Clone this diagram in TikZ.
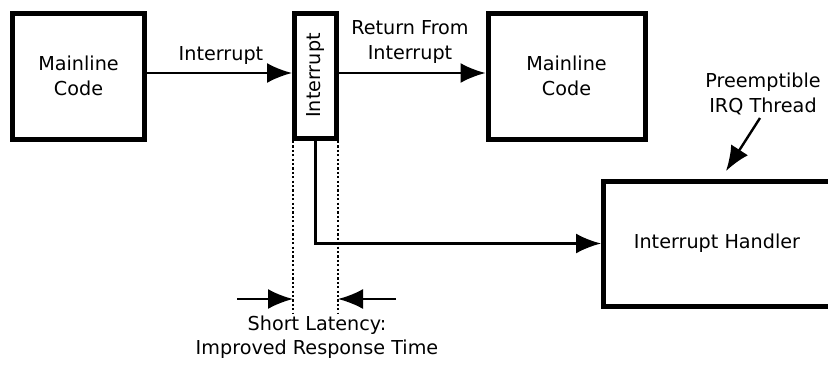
\documentclass[tikz,border=0pt]{standalone}
\usepackage{fontspec}
\setmainfont{DejaVu Sans}
\usetikzlibrary{arrows.meta}
\begin{document}
\begin{tikzpicture}[x=1pt,y=-1pt,
  box/.style={draw,line width=5pt,inner sep=0pt,align=center,font=\fontsize{19.2}{24.5}\selectfont},
  lbl/.style={inner sep=0pt,align=center,font=\fontsize{19.2}{24.5}\selectfont},
  arr/.style={line width=2.4pt,-{Latex[length=25pt,width=20pt]}},
  dot/.style={line width=2.6pt,dash pattern=on 2.2pt off 2.2pt}]
\useasboundingbox (0,0) rectangle (828,365);
\clip (0,0) rectangle (828,365);
\node[box,minimum width=132pt,minimum height=126pt] (main1) at (78.5,76) {Mainline\\Code};
\node[box,minimum width=42pt,minimum height=125pt] (intr) at (315.5,75.5) {\rotatebox{90}{Interrupt}};
\node[box,minimum width=157pt,minimum height=126pt] (main2) at (566.5,76) {Mainline\\Code};
\node[box,minimum width=250pt,minimum height=125pt] (handler) at (728.5,243.5) {};
\node[lbl] (htext) at (717,243) {Interrupt Handler};
\node[lbl] (l1) at (221,55) {Interrupt};
\node[lbl] (l2) at (410,42) {Return From\\Interrupt};
\node[lbl] (l3) at (763,94) {Preemptible\\IRQ Thread};
\node[lbl] (l4) at (317,337) {Short Latency:\\Improved Response Time};
\draw[arr] ([yshift=3pt]main1.east) -- ([yshift=2.5pt]intr.west);
\draw[arr] ([yshift=2.5pt]intr.east) -- ([yshift=3pt]main2.west);
\draw[arr] (intr.south) |- (handler.west);
\coordinate (d1a) at (293,141);
\coordinate (d1b) at (293,313);
\coordinate (d2a) at (338,141);
\coordinate (d2b) at (338,313);
\draw[dot] (d1a) -- (d1b);
\draw[dot] (d2a) -- (d2b);
\coordinate (la) at (237,299);
\coordinate (lb) at (293,299);
\coordinate (ra) at (396,299);
\coordinate (rb) at (338,299);
\draw[arr] (la) -- (lb);
\draw[arr] (ra) -- (rb);
\coordinate (pa) at (760,118);
\coordinate (pb) at (726,171);
\draw[arr] (pa) -- (pb);
\end{tikzpicture}
\end{document}
